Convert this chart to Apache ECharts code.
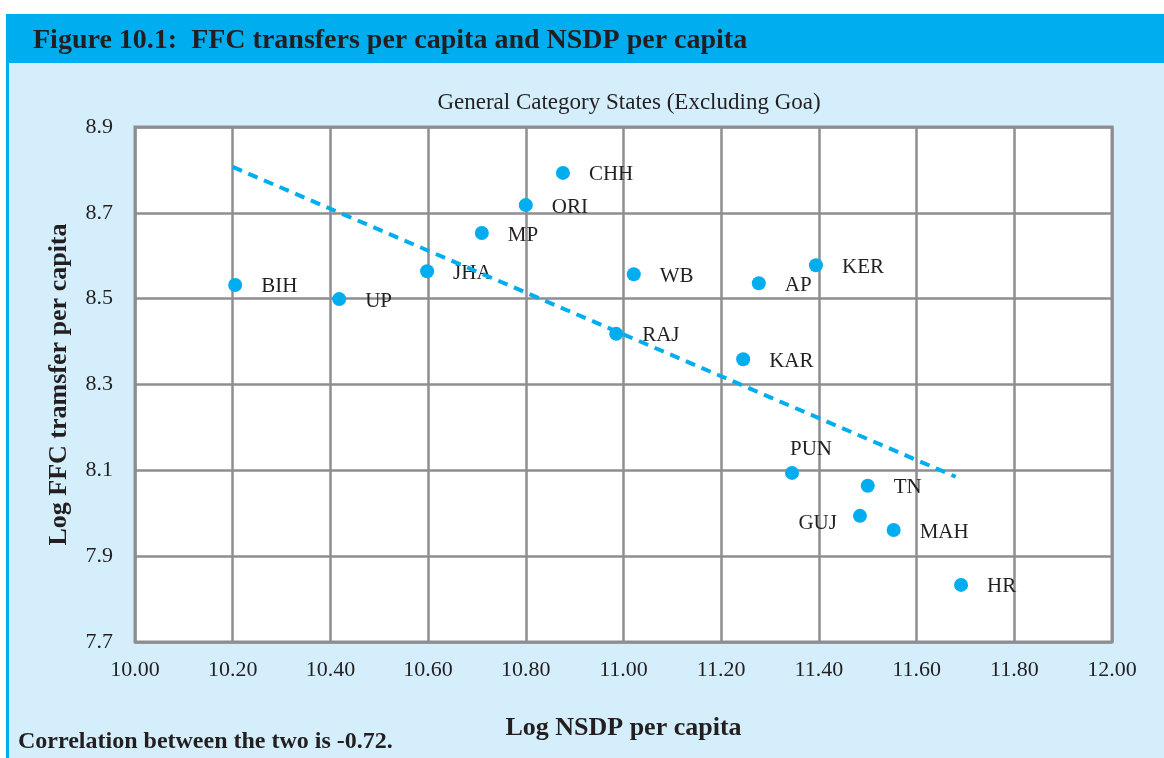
<!DOCTYPE html>
<html>
<head>
<meta charset="utf-8">
<title>Figure 10.1</title>
<script src="https://cdn.jsdelivr.net/npm/echarts@6/dist/echarts.min.js"></script>
<style>
  html, body { margin: 0; padding: 0; background: #fff; }
  #chart { width: 1164px; height: 758px; }
</style>
</head>
<body>
<div id="chart"></div>
<script>
"use strict";

// states, log NSDP per capita (x), log FFC transfer per capita (y)
const states  = ["BIH", "UP", "JHA", "MP", "ORI", "CHH", "WB", "RAJ", "AP", "KER", "KAR", "PUN", "TN", "GUJ", "MAH", "HR"];
const logNsdp = [10.205, 10.418, 10.598, 10.710, 10.800, 10.876, 11.021, 10.985, 11.277, 11.394, 11.245, 11.345, 11.500, 11.484, 11.553, 11.691];
const logFfc  = [8.532, 8.499, 8.564, 8.653, 8.718, 8.793, 8.557, 8.418, 8.536, 8.578, 8.359, 8.094, 8.064, 7.994, 7.961, 7.833];

// linear trend line end points
const trendX = [10.20, 11.68];
const trendY = [8.807, 8.085];

const TITLE = "Figure 10.1:  FFC transfers per capita and NSDP per capita";
const SUBTITLE = "General Category States (Excluding Goa)";
const NOTE = "Correlation between the two is -0.72.";

const BLUE = "#00aeef";
const PALE = "#d4eefb";
const GRID = "#8e8e90";
const INK = "#231f20";
const SERIF = "'Liberation Serif', 'Times New Roman', serif";

// labels that do not sit to the right of their point
const LABEL_POS = {
  PUN: { position: "top", distance: 6, offset: [19, 0] },
  GUJ: { position: "left", distance: 16, offset: [0, 8] },
};

const pts = states.map((s, i) => {
  const p = { name: s, value: [logNsdp[i], logFfc[i]] };
  if (LABEL_POS[s]) p.label = LABEL_POS[s];
  return p;
});

const chart = echarts.init(document.getElementById("chart"), null, { renderer: "canvas" });
chart.setOption({
  animation: false,
  backgroundColor: "#fff",
  textStyle: { fontFamily: SERIF, color: INK },
  graphic: [
    { type: "rect", z: -10, silent: true, shape: { x: 6, y: 14, width: 1158, height: 744 }, style: { fill: PALE } },
    { type: "rect", z: -9, silent: true, shape: { x: 6, y: 14, width: 1158, height: 49 }, style: { fill: BLUE } },
    { type: "rect", z: -9, silent: true, shape: { x: 6, y: 14, width: 3, height: 744 }, style: { fill: BLUE } },
    {
      type: "text", x: 33, y: 41,
      style: { text: TITLE, font: "bold 28px " + SERIF, fill: INK, verticalAlign: "middle" },
    },
    {
      type: "text", x: 18, y: 742,
      style: { text: NOTE, font: "bold 24px " + SERIF, fill: INK, verticalAlign: "middle" },
    },
  ],
  title: {
    text: SUBTITLE, left: 624, top: 86, textAlign: "center",
    textStyle: { fontFamily: SERIF, fontWeight: "normal", fontSize: 23, color: INK },
  },
  grid: {
    left: 135, right: 52, top: 127, bottom: 116,
    show: true, backgroundColor: "#fff", borderColor: GRID, borderWidth: 3,
  },
  xAxis: {
    type: "value", min: 10, max: 12, interval: 0.2,
    name: "Log NSDP per capita", nameLocation: "middle", nameGap: 73,
    nameTextStyle: { fontFamily: SERIF, fontWeight: "bold", fontSize: 26, color: INK },
    axisLine: { show: false }, axisTick: { show: false },
    axisLabel: { margin: 17, fontFamily: SERIF, fontSize: 22, color: INK, formatter: v => v.toFixed(2) },
    splitLine: { show: true, lineStyle: { color: GRID, width: 2.5 } },
  },
  yAxis: {
    type: "value", min: 7.7, max: 8.9, interval: 0.2,
    name: "Log FFC tramsfer per capita", nameLocation: "middle", nameGap: 63, nameRotate: 90,
    nameTextStyle: { fontFamily: SERIF, fontWeight: "bold", fontSize: 26, color: INK },
    axisLine: { show: false }, axisTick: { show: false },
    axisLabel: { margin: 22, fontFamily: SERIF, fontSize: 22, color: INK, formatter: v => v.toFixed(1) },
    splitLine: { show: true, lineStyle: { color: GRID, width: 2.5 } },
  },
  series: [
    {
      type: "scatter", data: pts, symbolSize: 14, z: 3,
      itemStyle: { color: BLUE, opacity: 1 },
      label: {
        show: true, position: "right", distance: 19, offset: [0, 2],
        formatter: p => p.name,
        fontFamily: SERIF, fontSize: 21, color: INK,
      },
    },
    {
      type: "line", data: trendX.map((x, i) => [x, trendY[i]]), z: 4,
      showSymbol: false, silent: true,
      lineStyle: { color: BLUE, width: 4, type: [10, 7], cap: "butt" },
    },
  ],
});
</script>
</body>
</html>
